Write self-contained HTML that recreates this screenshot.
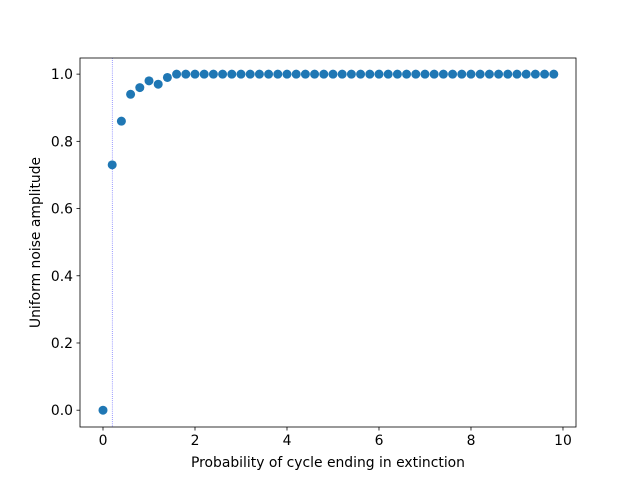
<!DOCTYPE html>
<html><head><meta charset="utf-8"><style>body{margin:0;background:#fff}svg{display:block}text{font-family:"DejaVu Sans","Liberation Sans",sans-serif;fill:#000}</style></head>
<body>
<svg id="chart" width="640" height="480">
<rect x="0" y="0" width="640" height="480" fill="#fff"/>
<g id="plot"></g>
</svg>
<script>
const xValues = [0,0.2,0.4,0.6,0.8,1.0,1.2,1.4,1.6,1.8,2.0,2.2,2.4,2.6,2.8,3.0,3.2,3.4,3.6,3.8,4.0,4.2,4.4,4.6,4.8,5.0,5.2,5.4,5.6,5.8,6.0,6.2,6.4,6.6,6.8,7.0,7.2,7.4,7.6,7.8,8.0,8.2,8.4,8.6,8.8,9.0,9.2,9.4,9.6,9.8];
const yValues = [0,0.73,0.86,0.94,0.96,0.98,0.97,0.99,1,1,1,1,1,1,1,1,1,1,1,1,1,1,1,1,1,1,1,1,1,1,1,1,1,1,1,1,1,1,1,1,1,1,1,1,1,1,1,1,1,1];
const xTicks = [0,2,4,6,8,10];
const yTicks = [0.0,0.2,0.4,0.6,0.8,1.0];
const vLineX = 0.2;

const L=80,R=576,T=58,B=427;
const xMin=-0.5,xMax=10.283,yMin=-0.05,yMax=1.048;
const sx=v=>L+(v-xMin)/(xMax-xMin)*(R-L);
const sy=v=>B-(v-yMin)/(yMax-yMin)*(B-T);
const NS="http://www.w3.org/2000/svg";
const g=document.getElementById('plot');
function mk(tag,attrs,parent){const e=document.createElementNS(NS,tag);for(const k in attrs)e.setAttribute(k,attrs[k]);(parent||g).appendChild(e);return e;}

const vl=mk('line',{x1:sx(vLineX),x2:sx(vLineX),y1:T,y2:B,stroke:'#0000ff','stroke-width':0.5,'stroke-dasharray':'0.8,1.3'});



for(let i=0;i<xValues.length;i++){
  const c=mk('circle',{cx:sx(xValues[i]),cy:sy(yValues[i]),r:4.5,fill:'#1f77b4'});
  
  
}

const frame=mk('rect',{x:L,y:T,width:R-L,height:B-T,fill:'none',stroke:'#000','stroke-width':0.8});



xTicks.forEach(t=>{
  const x=sx(t);
  const tk=mk('line',{x1:x,x2:x,y1:B,y2:B+3.5,stroke:'#000','stroke-width':0.8});
  
  
  const tx=mk('text',{x:x,y:B+18,'text-anchor':'middle','font-size':'13.9'});
  tx.textContent=String(t);
  
  
});
yTicks.forEach(t=>{
  const y=sy(t);
  const tk=mk('line',{x1:L-3.5,x2:L,y1:y,y2:y,stroke:'#000','stroke-width':0.8});
  
  
  const tx=mk('text',{x:L-7,y:y+5,'text-anchor':'end','font-size':'13.9'});
  tx.textContent=t.toFixed(1);
  
  
});
const xt=mk('text',{x:(L+R)/2,y:467,'text-anchor':'middle','font-size':'13.9'});
xt.textContent='Probability of cycle ending in extinction';


const yt=mk('text',{x:40,y:(T+B)/2,'text-anchor':'middle','font-size':'13.9',transform:'rotate(-90 40 '+((T+B)/2)+')'});
yt.textContent='Uniform noise amplitude';


</script>
</body></html>
